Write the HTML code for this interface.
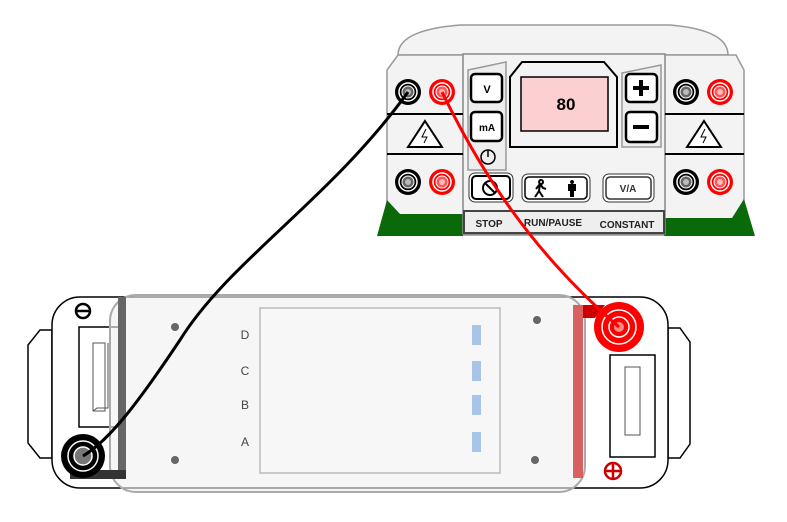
<!DOCTYPE html>
<html><head><meta charset="utf-8"><style>
html,body{margin:0;padding:0;background:#fff;width:787px;height:522px;overflow:hidden}
svg{display:block;font-family:"Liberation Sans",sans-serif}
</style></head><body>
<svg width="787" height="522" viewBox="0 0 787 522" xmlns="http://www.w3.org/2000/svg">
<defs>
<g id="bj"><circle r="13" fill="#000"/><circle r="9" fill="none" stroke="#fff" stroke-width="1.5"/><circle r="6" fill="#666" stroke="#fff" stroke-width="1"/><circle r="3" fill="#bbb"/></g>
<g id="rj"><circle r="13" fill="#f00"/><circle r="9" fill="none" stroke="#fff" stroke-width="1.5"/><circle r="6" fill="#f55" stroke="#fff" stroke-width="1"/><circle r="3" fill="#fbb"/></g>
<g id="warn"><path d="M0,-14 L17,12 L-17,12 Z" fill="#fff" stroke="#000" stroke-width="2"/><path d="M1,-6 L-3,2 L2,2 L-1,8" fill="none" stroke="#000" stroke-width="1"/></g>
</defs>
<!-- power supply -->
<path d="M398,55 Q398,30 460,25 L670,25 Q728,30 728,55 Z" fill="#f3f3f3" stroke="#999" stroke-width="1.5"/>
<path d="M398,55 L736,55 L744,70 L744,235 L387,235 L387,70 Z" fill="#f3f3f3" stroke="#999" stroke-width="1.5"/>
<path d="M387,200 L400,214 L463,214 L463,236 L377,236 Z" fill="#0a6a0a"/>
<path d="M744,199 L732,218 L664,218 L664,236 L755,236 Z" fill="#0a6a0a"/>
<rect x="463" y="54" width="202" height="180" fill="#f3f3f3" stroke="#888" stroke-width="1.5"/>
<rect x="464" y="211" width="200" height="22" fill="#eee" stroke="#444" stroke-width="2"/>
<text x="489" y="227" font-size="10" font-weight="bold" text-anchor="middle" fill="#222">STOP</text>
<text x="553" y="226" font-size="10" font-weight="bold" text-anchor="middle" fill="#222">RUN/PAUSE</text>
<text x="627" y="228" font-size="10" font-weight="bold" text-anchor="middle" fill="#222">CONSTANT</text>
<line x1="387" y1="114" x2="463" y2="114" stroke="#000" stroke-width="2"/>
<line x1="387" y1="154" x2="463" y2="154" stroke="#000" stroke-width="2"/>
<line x1="665" y1="114" x2="744" y2="114" stroke="#000" stroke-width="2"/>
<line x1="665" y1="154" x2="744" y2="154" stroke="#000" stroke-width="2"/>
<use href="#warn" x="425" y="135"/><use href="#warn" x="704" y="135"/>
<use href="#bj" x="408" y="92"/><use href="#rj" x="442" y="92"/>
<use href="#bj" x="408" y="182"/><use href="#rj" x="442" y="182"/>
<use href="#bj" x="686" y="92"/><use href="#rj" x="720" y="92"/>
<use href="#bj" x="686" y="182"/><use href="#rj" x="720" y="182"/>
<!-- left panel -->
<path d="M468,70 L506,62 L506,170 L468,170 Z" fill="#eee" stroke="#999" stroke-width="1.5"/>
<rect x="471" y="74" width="31" height="28" rx="4" fill="#fff" stroke="#000" stroke-width="2.5"/>
<text x="487" y="93" font-size="11" font-weight="bold" text-anchor="middle">V</text>
<rect x="471" y="112" width="31" height="29" rx="4" fill="#fff" stroke="#000" stroke-width="2.5"/>
<text x="487" y="131" font-size="10" font-weight="bold" text-anchor="middle">mA</text>
<circle cx="488" cy="157" r="7" fill="none" stroke="#000" stroke-width="1.5"/><line x1="488" y1="150" x2="488" y2="157" stroke="#000" stroke-width="1.5"/>
<!-- display -->
<path d="M522,62 L604,62 L617,77 L617,147 L510,147 L510,77 Z" fill="#f3f3f3" stroke="#000" stroke-width="2"/>
<rect x="521" y="77" width="87" height="54" fill="#fcd0d0" stroke="#000" stroke-width="1.5"/>
<text x="566" y="110" font-size="17" font-weight="bold" text-anchor="middle">80</text>
<!-- right panel -->
<path d="M622,73 L661,65 L661,147 L622,147 Z" fill="#eee" stroke="#999" stroke-width="1.5"/>
<rect x="626" y="74" width="31" height="28" rx="4" fill="#fff" stroke="#000" stroke-width="2.5"/>
<path d="M641,80 v16 M633,88 h16" stroke="#000" stroke-width="4"/>
<rect x="626" y="112" width="31" height="30" rx="4" fill="#fff" stroke="#000" stroke-width="2.5"/>
<path d="M633,127 h16" stroke="#000" stroke-width="4"/>
<!-- bottom buttons -->
<rect x="469" y="173" width="44" height="29" rx="6" fill="#fff" stroke="#333" stroke-width="1"/>
<rect x="472" y="176" width="38" height="23" rx="4" fill="#fff" stroke="#000" stroke-width="2"/>
<circle cx="490" cy="188" r="7" fill="none" stroke="#000" stroke-width="2"/><line x1="485" y1="183" x2="495" y2="193" stroke="#000" stroke-width="2"/>
<rect x="522" y="174" width="68" height="28" rx="6" fill="#fff" stroke="#333" stroke-width="1"/>
<rect x="525" y="177" width="62" height="22" rx="4" fill="#fff" stroke="#000" stroke-width="1.5"/>
<path d="M541,180 a2,2 0 1 0 0.1,0 M540,184 l-4,5 M540,184 l3,4 l3,1 M540,184 l-1,7 l-4,6 M539,191 l4,6" fill="none" stroke="#000" stroke-width="2"/>
<path d="M572,180 a2,2 0 1 0 0.1,0 M568,184 h8 v7 h-2 v6 h-4 v-6 h-2 Z" fill="#000"/>
<rect x="603" y="174" width="51" height="28" rx="6" fill="#fff" stroke="#333" stroke-width="1"/>
<rect x="606" y="177" width="45" height="22" rx="4" fill="#fff" stroke="#333" stroke-width="1.5"/>
<text x="628" y="192" font-size="10" font-weight="bold" text-anchor="middle" fill="#333">V/A</text>
<!-- gel box -->
<path d="M52,330 L40,330 L28,345 L28,443 L40,458 L52,458 Z" fill="#fff" stroke="#000" stroke-width="1.5"/>
<path d="M668,328 L680,328 L690,342 L690,444 L680,458 L668,458 Z" fill="#fff" stroke="#000" stroke-width="1.5"/>
<rect x="52" y="297" width="616" height="191" rx="28" fill="#fff" stroke="#000" stroke-width="1.5"/>
<circle cx="83" cy="311" r="7" fill="#fff" stroke="#000" stroke-width="2.5"/><line x1="77" y1="311" x2="89" y2="311" stroke="#000" stroke-width="2.5"/>
<rect x="79" y="327" width="40" height="100" fill="#fff" stroke="#000" stroke-width="1.5"/>
<rect x="93" y="343" width="12" height="68" fill="#fff" stroke="#555"/>
<path d="M93,411 l4,-3 h11 v-65" fill="none" stroke="#555"/>
<rect x="610" y="355" width="45" height="102" fill="#fff" stroke="#000" stroke-width="1.5"/>
<rect x="625" y="367" width="15" height="68" fill="#fff" stroke="#555"/>
<circle cx="613" cy="471" r="8" fill="none" stroke="#c00" stroke-width="2.5"/><path d="M605,471 h16 M613,463 v16" stroke="#c00" stroke-width="2.5"/>
<rect x="110" y="295" width="475" height="197" rx="26" fill="#f0f0f0" fill-opacity="0.6" stroke="#aaa" stroke-width="2"/>
<rect x="118" y="297" width="8" height="181" fill="#666"/>
<rect x="70" y="470" width="56" height="9" fill="#333"/>
<circle cx="83" cy="456" r="22" fill="#000"/><circle cx="83" cy="456" r="15" fill="none" stroke="#fff" stroke-width="1.5"/><circle cx="83" cy="456" r="9" fill="#777" stroke="#fff" stroke-width="1.5"/>
<rect x="573" y="305" width="10" height="173" fill="#d96060"/>
<path d="M583,305 L605,305 L595,318 L583,318 Z" fill="#c00"/>
<rect x="260" y="308" width="240" height="165" fill="#f7f7f7" stroke="#bbb" stroke-width="1.5"/>
<circle cx="175" cy="327" r="4" fill="#666"/><circle cx="175" cy="460" r="4" fill="#666"/>
<circle cx="537" cy="320" r="4" fill="#666"/><circle cx="535" cy="460" r="4" fill="#666"/>
<g font-size="12" fill="#444" text-anchor="middle"><text x="245" y="339">D</text><text x="245" y="375">C</text><text x="245" y="409">B</text><text x="245" y="446">A</text></g>
<g fill="#a8c4e6"><rect x="472" y="325" width="9" height="20"/><rect x="472" y="361" width="9" height="20"/><rect x="472" y="395" width="9" height="20"/><rect x="472" y="432" width="9" height="20"/></g>
<circle cx="619" cy="327" r="25" fill="#f00"/><circle cx="619" cy="327" r="17" fill="none" stroke="#fff" stroke-width="1.5"/><circle cx="619" cy="327" r="10" fill="none" stroke="#fff" stroke-width="1.5"/><circle cx="619" cy="327" r="5" fill="#f88"/>
<!-- cables -->
<path d="M408,92 C330,200 230,260 180,340 C140,400 110,440 83,456" fill="none" stroke="#000" stroke-width="3"/>
<path d="M442,92 C480,170 530,250 619,327" fill="none" stroke="#f00" stroke-width="3"/>
</svg>
</body></html>
